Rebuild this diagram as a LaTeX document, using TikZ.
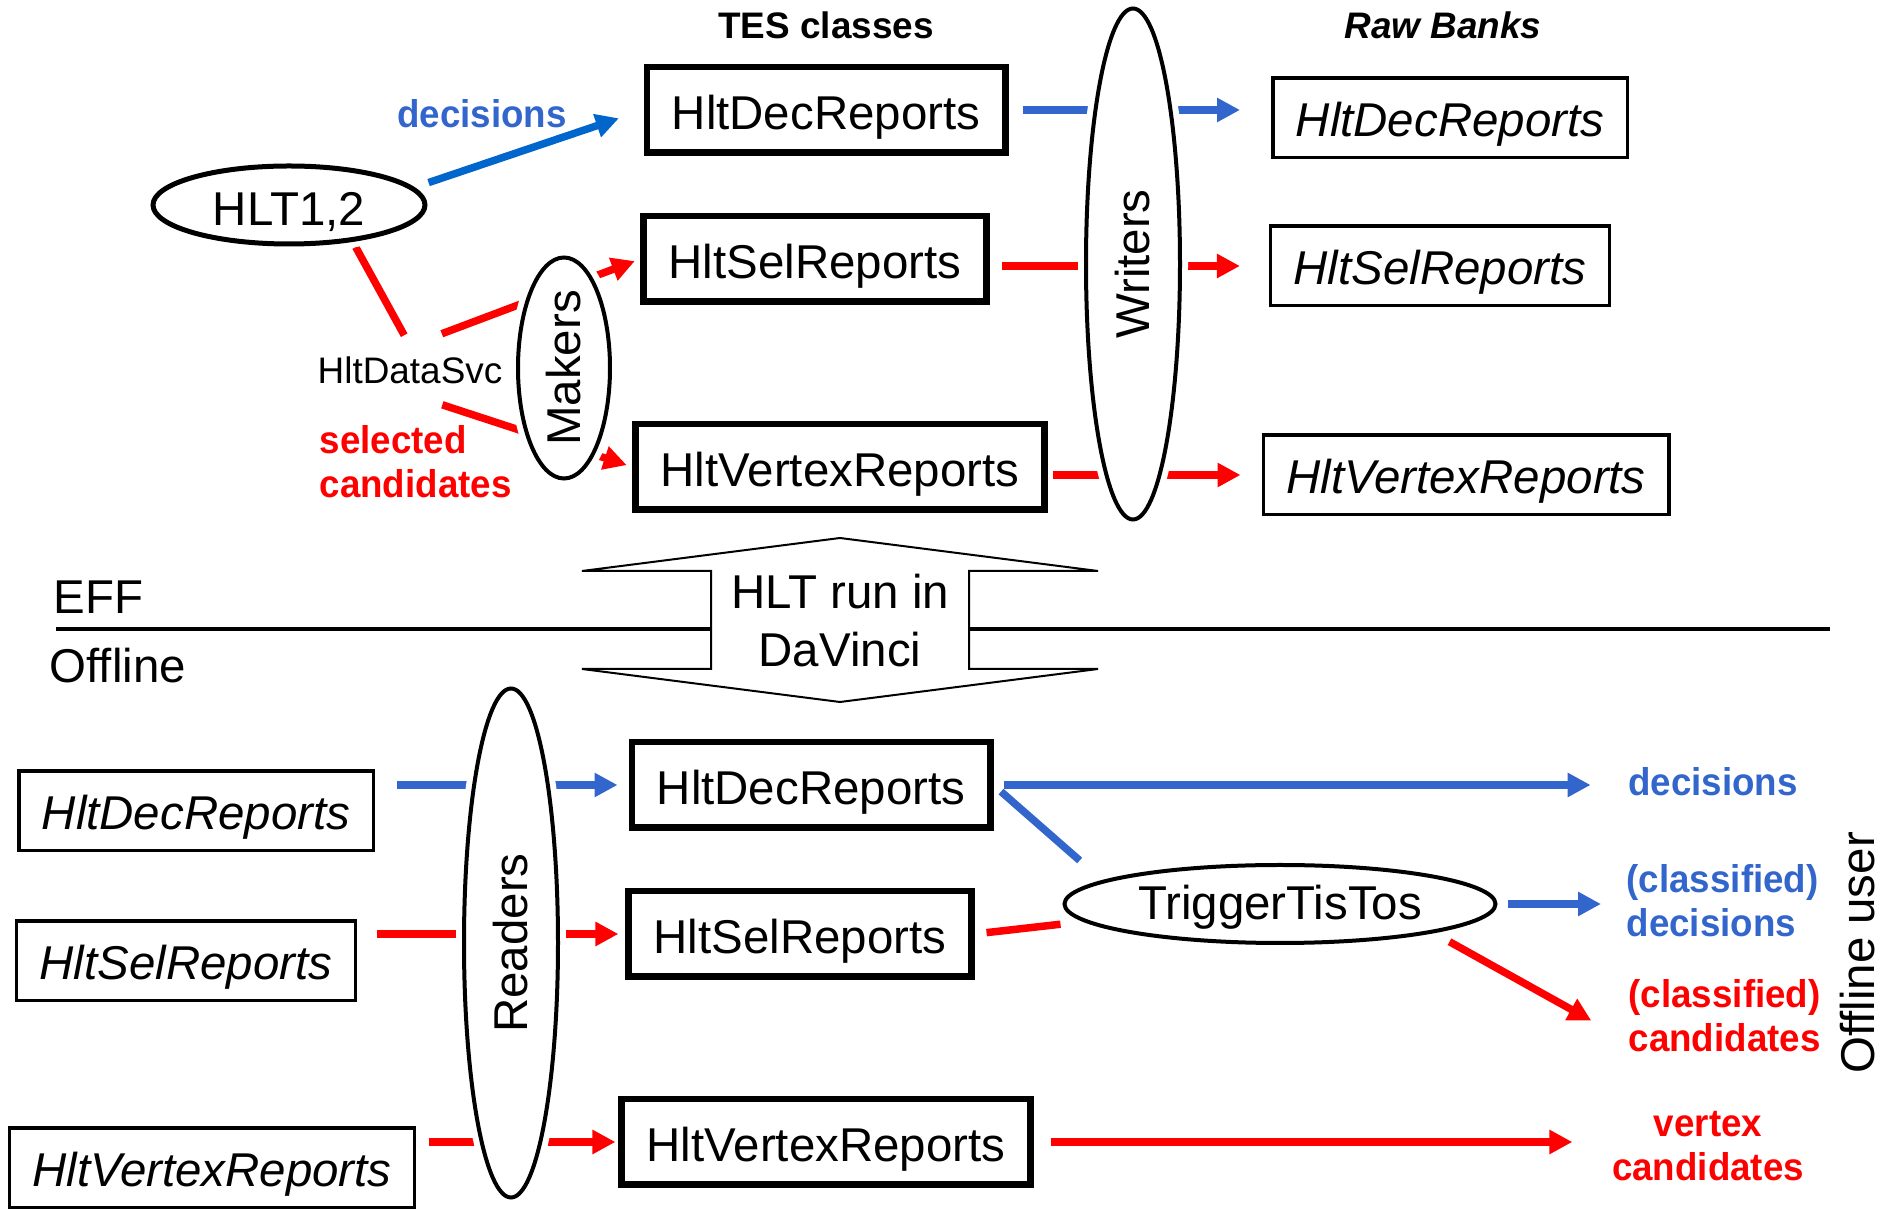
\documentclass[tikz,border=0pt]{standalone}
\usepackage{fontspec}
\setmainfont{Liberation Sans}
\newfontfamily\labelfont[FakeStretch=0.95]{Liberation Sans}
\usetikzlibrary{shapes.geometric,arrows.meta,backgrounds}
\definecolor{decblue}{RGB}{51,102,204}
\definecolor{hltblue}{RGB}{0,102,204}
\definecolor{candred}{RGB}{255,0,0}
\tikzset{
  tesbox/.style={draw=black, line width=0.065cm, minimum height=0.855cm, inner xsep=0.25cm, inner ysep=0.1cm, text height=0.49cm, text depth=0.10cm, font=\fontsize{13.5}{16.5}\selectfont},
  rawbox/.style={draw=black, line width=0.035cm, minimum height=0.795cm, inner xsep=0.23cm, inner ysep=0.1cm, text height=0.47cm, text depth=0.10cm, font=\fontsize{13.5}{16.5}\selectfont\itshape},
  ring/.style={ellipse, draw=black, line width=0.04cm, fill=white, inner sep=0pt, font=\fontsize{13.5}{16.5}\selectfont, preaction={draw=white, line width=0.16cm}},
  plainlabel/.style={inner sep=0pt, font=\fontsize{13.5}{16.5}\selectfont},
  headlabel/.style={inner sep=0pt, font=\fontsize{10.5}{12.6}\selectfont\bfseries},
  bluelabel/.style={inner sep=0pt, text=decblue, font=\labelfont\fontsize{11}{12.5}\selectfont\bfseries},
  redlabel/.style={inner sep=0pt, text=candred, font=\labelfont\fontsize{11}{12.5}\selectfont\bfseries},
  bluewire/.style={line width=0.075cm, color=decblue},
  redwire/.style={line width=0.075cm, color=candred},
  bluearrow/.style={bluewire, -{Triangle[length=0.23cm, width=0.23cm]}},
  redarrow/.style={redwire, -{Triangle[length=0.23cm, width=0.23cm]}},
}

\begin{document}
\begin{tikzpicture}
\useasboundingbox (0,0) rectangle (18.98,12.09);
\node[headlabel] (tes) at (8.26,11.84) {TES classes};
\node[headlabel, font=\fontsize{10.5}{12.6}\selectfont\bfseries\itshape] (raw) at (14.43,11.84) {Raw Banks};
\node[ring, line width=0.05cm, minimum width=2.72cm, minimum height=0.78cm, text height=0.48cm, text depth=0.07cm] (hlt) at (2.89,10.04) {HLT1,2};
\node[bluelabel] (topdec) at (4.82,10.95) {decisions};
\node[inner sep=0.1cm, font=\fontsize{10.5}{12.6}\selectfont] (svc) at (4.10,8.39) {HltDataSvc};
\node[redlabel, anchor=west, align=left] (selcand) at (3.19,7.47) {selected\\candidates};
\node[ring, rotate=90, minimum width=2.21cm, minimum height=0.92cm] (makers) at (5.64,8.41) {Makers};
\node[tesbox] (tdec) at (8.26,10.99) {HltDecReports};
\node[tesbox] (tsel) at (8.15,9.50) {HltSelReports};
\node[tesbox] (tvert) at (8.40,7.42) {HltVertexReports};
\node[ring, rotate=90, minimum width=5.11cm, minimum height=0.94cm] (writers) at (11.33,9.45) {Writers};
\node[rawbox] (rdec) at (14.50,10.91) {HltDecReports};
\node[rawbox] (rsel) at (14.40,9.43) {HltSelReports};
\node[rawbox] (rvert) at (14.66,7.34) {HltVertexReports};
\draw[line width=0.045cm] (0.56,5.80) -- (18.30,5.80);
\node[plainlabel, anchor=base west] (eff) at (0.53,5.95) {EFF};
\node[plainlabel, anchor=base west] (offline) at (0.49,5.26) {Offline};
\draw[line width=0.02cm, fill=white] (5.82,5.40) -- (7.11,5.40) -- (7.11,6.38) -- (5.82,6.38) -- (8.40,6.71) -- (10.98,6.38) -- (9.69,6.38) -- (9.69,5.40) -- (10.98,5.40) -- (8.40,5.07) -- cycle;
\node[plainlabel, align=center] (davinci) at (8.40,5.88) {HLT run in\\DaVinci};
\node[rawbox] (ordec) at (1.96,3.98) {HltDecReports};
\node[rawbox] (orsel) at (1.86,2.48) {HltSelReports};
\node[rawbox] (orvert) at (2.12,0.41) {HltVertexReports};
\node[ring, rotate=90, minimum width=5.09cm, minimum height=0.94cm] (readers) at (5.11,2.66) {Readers};
\node[tesbox] (odec) at (8.11,4.24) {HltDecReports};
\node[tesbox] (osel) at (8.00,2.75) {HltSelReports};
\node[tesbox] (overt) at (8.26,0.67) {HltVertexReports};
\node[ring, minimum width=4.31cm, minimum height=0.78cm, text height=0.42cm, text depth=0.10cm] (ttt) at (12.80,3.05) {TriggerTisTos};
\node[bluelabel] (ldec) at (17.13,4.27) {decisions};
\node[bluelabel, anchor=west, align=left] (lcdec) at (16.26,3.08) {(classified)\\decisions};
\node[redlabel, anchor=west, align=left] (lccand) at (16.28,1.93) {(classified)\\candidates};
\node[redlabel, align=center] (lvcand) at (17.08,0.63) {vertex\\candidates};
\node[plainlabel, rotate=90] (offuser) at (18.58,2.56) {Offline user};
\begin{scope}[on background layer]
\draw[bluearrow, color=hltblue, shorten <=0.15cm, shorten >=0.26cm] (hlt.8) -- (tdec.west);
\draw[redwire, shorten <=0.06cm, shorten >=0.12cm] (hlt.-30) -- (svc.north);
\draw[redarrow, shorten <=0.34cm, shorten >=0.06cm] (svc.north) -- (tsel.west);
\draw[redarrow, shorten <=0.34cm, shorten >=0.06cm] (svc.south) -- (tvert.west);
\draw[bluearrow, shorten <=0.14cm, shorten >=0.31cm] (tdec.east) -- (tdec.east -| rdec.west);
\draw[redarrow, shorten <=0.12cm, shorten >=0.29cm] (rsel.west -| tsel.east) -- (rsel.west);
\draw[redarrow, shorten <=0.05cm, shorten >=0.21cm] (rvert.west -| tvert.east) -- (rvert.west);
\draw[bluearrow, shorten <=0.22cm, shorten >=0.11cm] (odec.west -| ordec.east) -- (odec.west);
\draw[redarrow, shorten <=0.20cm, shorten >=0.07cm] (osel.west -| orsel.east) -- (osel.west);
\draw[redarrow, shorten <=0.13cm, shorten >=0.03cm] (overt.west -| orvert.east) -- (overt.west);
\draw[bluearrow, shorten <=0.10cm, shorten >=0.37cm] (odec.east) -- (odec.east -| ldec.west);
\draw[bluewire, shorten <=0.10cm, shorten >=0.22cm] (odec.east) -- ([xshift=-0.3cm]ttt.north west);
\draw[redwire, shorten <=0.12cm, shorten >=0.02cm] (osel.east) -- ([yshift=-0.2cm]ttt.west);
\draw[bluearrow, shorten <=0.10cm, shorten >=0.25cm] (ttt.east) -- (ttt.east -| lcdec.west);
\draw[redarrow, shorten <=0.18cm, shorten >=0.42cm] (ttt.south east) -- ([yshift=-0.25cm]lccand.west);
\draw[redarrow, shorten <=0.17cm, shorten >=0.39cm] (overt.east) -- (overt.east -| lvcand.west);
\end{scope}
\end{tikzpicture}
\end{document}
